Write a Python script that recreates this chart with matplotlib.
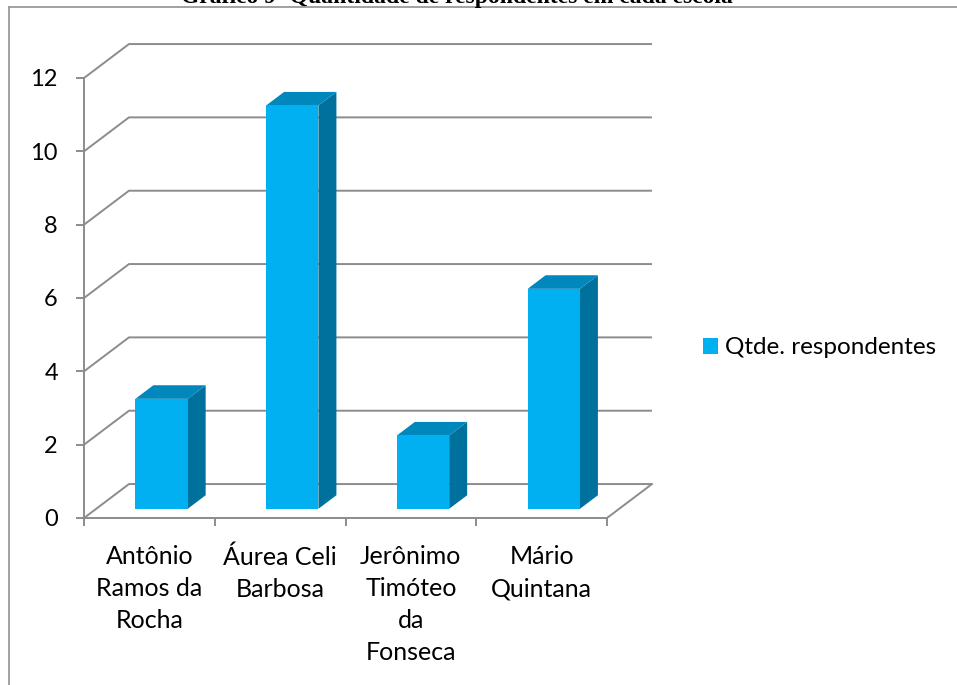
import numpy as np
import matplotlib
matplotlib.use("Agg")
import matplotlib.pyplot as plt
from matplotlib.patches import Polygon, Patch
from matplotlib.lines import Line2D

plt.rcParams['font.family'] = ['Lato', 'DejaVu Sans']

# data
escolas = ["Antônio\nRamos da\nRocha", "Áurea Celi\nBarbosa",
           "Jerônimo\nTimóteo\nda\nFonseca", "Mário\nQuintana"]
respondentes = [3, 11, 2, 6]
yticks = [0, 2, 4, 6, 8, 10, 12]
serie = "Qtde. respondentes"
titulo = "Gráfico 9- Quantidade de respondentes em cada escola"

# colours / 3d look
front_c = '#00B0F0'
side_c = '#00719C'
top_c = '#0087BC'
grid_c = '#8c8c8c'
DX, DY = 0.344, 0.926      # depth of the floor in data units
f0, fb = 0.27, 0.40        # bar front position and bar depth (fraction of DX/DY)
bw = 0.40                  # bar width

W, H = 957, 685
fig = plt.figure(figsize=(W / 100, H / 100), dpi=100)
ax = fig.add_axes([84 / W, (H - 518) / H, 523 / W, 440 / H])
n = len(escolas)
ax.set_xlim(0, n)
ax.set_ylim(0, 12)

# walls / gridlines
for v in yticks:
    ax.plot([0, DX, n + DX], [v, v + DY, v + DY], color=grid_c, lw=1.4,
            clip_on=False, zorder=1, solid_capstyle='butt')
ax.plot([n, n + DX], [0, DY], color=grid_c, lw=1.4, clip_on=False, zorder=1)

# bars
for i, v in enumerate(respondentes):
    x0 = i + 0.5 - bw / 2 + f0 * DX
    x1 = x0 + bw
    y0 = f0 * DY
    y1 = y0 + v
    ddx, ddy = fb * DX, fb * DY
    ax.add_patch(Polygon([(x1, y0), (x1 + ddx, y0 + ddy), (x1 + ddx, y1 + ddy), (x1, y1)],
                         closed=True, fc=side_c, ec='none', clip_on=False, zorder=3))
    ax.add_patch(Polygon([(x0, y1), (x1, y1), (x1 + ddx, y1 + ddy), (x0 + ddx, y1 + ddy)],
                         closed=True, fc=top_c, ec='none', clip_on=False, zorder=3))
    ax.add_patch(Polygon([(x0, y0), (x1, y0), (x1, y1), (x0, y1)],
                         closed=True, fc=front_c, ec='none', clip_on=False, zorder=4))

# axes styling
ax.set_facecolor('none')
for s in ['top', 'right']:
    ax.spines[s].set_visible(False)
for s in ['left', 'bottom']:
    ax.spines[s].set_color(grid_c)
    ax.spines[s].set_linewidth(1.4)
    ax.spines[s].set_zorder(2)

ax.set_yticks(yticks)
ax.tick_params(axis='y', direction='out', length=5.8, width=1.4, color=grid_c,
               labelsize=17, labelcolor='black', pad=13)
ax.set_xticks(np.arange(n + 1))
ax.set_xticklabels([])
ax.tick_params(axis='x', which='major', direction='out', length=5.5, width=1.4, color=grid_c)
ax.set_xticks(np.arange(n) + 0.5, minor=True)
ax.set_xticklabels(escolas, minor=True, fontsize=18, linespacing=1.48)
ax.tick_params(axis='x', which='minor', length=0, pad=19.5)

# legend
fig.legend(handles=[Patch(fc=front_c, ec='none', label=serie)], loc='center left',
           bbox_to_anchor=(703 / W, 1 - 348 / H), frameon=False, fontsize=17.5,
           handlelength=0.62, handleheight=0.62, handletextpad=0.3,
           borderpad=0, borderaxespad=0)

# outer frame and (cut) title
fig.add_artist(Line2D([9 / W, 9 / W], [0, 1 - 6.5 / H], color='#9a9a9a', lw=1.3))
fig.add_artist(Line2D([9 / W, 1], [1 - 6.5 / H, 1 - 6.5 / H], color='#9a9a9a', lw=1.3))
fig.text(457 / W, 1 - 2.5 / H, titulo, ha='center', va='baseline', fontsize=17,
         fontweight='bold', family='Liberation Serif')

fig.savefig('out.png', dpi=100)
